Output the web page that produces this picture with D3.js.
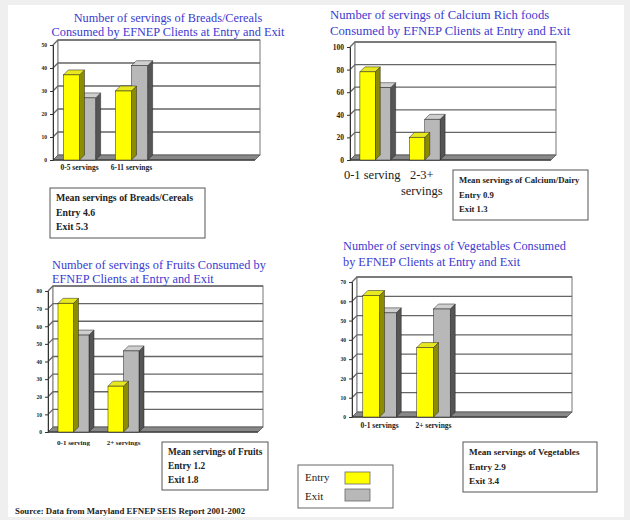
<!DOCTYPE html>
<html>
<head>
<meta charset="utf-8">
<script src="https://cdn.jsdelivr.net/npm/d3@7"></script>
<style>
  body { margin: 0; background: #efefef; }
  svg { display: block; }
</style>
</head>
<body>
<div id="chart"></div>
<script>
// values
const breadCats = ["0-5 servings", "6-11 servings"];
const breadEntry = [37, 30];
const breadExit = [27, 41];
const breadTicks = [0, 10, 20, 30, 40, 50];
const breadMean = ["Mean servings of Breads/Cereals", "Entry 4.6", "Exit 5.3"];

const calciumCats = ["0-1 serving", "2-3+ servings"];
const calciumEntry = [78, 20];
const calciumExit = [64, 36];
const calciumTicks = [0, 20, 40, 60, 80, 100];
const calciumMean = ["Mean servings of Calcium/Dairy", "Entry 0.9", "Exit 1.3"];

const fruitCats = ["0-1 serving", "2+ servings"];
const fruitEntry = [73, 26];
const fruitExit = [55, 46];
const fruitTicks = [0, 10, 20, 30, 40, 50, 60, 70, 80];
const fruitMean = ["Mean servings of Fruits", "Entry 1.2", "Exit 1.8"];

const vegCats = ["0-1 servings", "2+ servings"];
const vegEntry = [63, 36];
const vegExit = [54, 56];
const vegTicks = [0, 10, 20, 30, 40, 50, 60, 70];
const vegMean = ["Mean servings of Vegetables", "Entry 2.9", "Exit 3.4"];

const seriesNames = ["Entry", "Exit"];

const W = 630, H = 520;
const blue = "#3a3ad0";
const serif = "'Liberation Serif', 'DejaVu Serif', serif";
const depth = 5;

const svg = d3.select("#chart").append("svg")
    .attr("width", W).attr("height", H);

svg.append("rect")
    .attr("x", 8).attr("y", 5)
    .attr("width", 616).attr("height", 512)
    .attr("fill", "#fff");

const fills = {
    Entry: {front: "#ffff00", top: "#e8e820", side: "#8c8c00"},
    Exit: {front: "#b8b8b8", top: "#cfcfcf", side: "#555"}
};

function drawChart(cfg) {
    const g = svg.append("g");
    const x = d3.scaleBand()
        .domain(cfg.cats)
        .range(cfg.xRange)
        .paddingInner(0.38)
        .paddingOuter(0.2);
    const y = d3.scaleLinear()
        .domain([0, d3.max(cfg.ticks)])
        .range(cfg.yRange);
    const x0 = cfg.xRange[0], x1 = cfg.wallRight;
    const y0 = y(0), yTop = y(d3.max(cfg.ticks));

    // side wall + back wall
    g.append("path")
        .attr("d", `M${x0},${y0}L${x0},${yTop}L${x0 + depth},${yTop - depth}L${x0 + depth},${y0 - depth}Z`)
        .attr("fill", "#fff").attr("stroke", "#777").attr("stroke-width", 0.8);
    g.append("rect")
        .attr("x", x0 + depth).attr("y", yTop - depth)
        .attr("width", x1 - x0 - depth).attr("height", y0 - yTop)
        .attr("fill", "#fff").attr("stroke", "#777").attr("stroke-width", 1);

    // gridlines on the wall
    g.selectAll(".grid")
        .data(cfg.ticks.slice(1))
        .enter().append("path")
        .attr("d", d => `M${x0},${y(d)}L${x0 + depth},${y(d) - depth}L${x1},${y(d) - depth}`)
        .attr("fill", "none")
        .attr("stroke", "#666")
        .attr("stroke-width", 1.3);

    // floor
    g.append("path")
        .attr("d", `M${x0},${y0}L${x1 - depth},${y0}L${x1},${y0 - depth}L${x0 + depth},${y0 - depth}Z`)
        .attr("fill", "#888").attr("stroke", "#555").attr("stroke-width", 0.8);
    g.append("line")
        .attr("x1", x0).attr("x2", x1 - depth)
        .attr("y1", y0).attr("y2", y0)
        .attr("stroke", "#444").attr("stroke-width", 1.5);

    // y axis
    const axis = g.append("g")
        .attr("transform", `translate(${x0},0)`)
        .call(d3.axisLeft(y).tickValues(cfg.ticks).tickSize(3).tickFormat(d3.format("d")));
    axis.select(".domain").attr("stroke", "#333");
    axis.selectAll("line").attr("stroke", "#333");
    axis.selectAll("text")
        .attr("font-family", serif)
        .attr("font-size", cfg.tickSize)
        .attr("font-weight", "bold")
        .attr("fill", "#222");

    // bars, drawn right to left so the side faces overlap properly
    const bw = x.bandwidth() / 2;
    const rows = [];
    cfg.cats.forEach((c, i) => {
        rows.push({cat: c, s: "Entry", v: cfg.entry[i], k: 0});
        rows.push({cat: c, s: "Exit", v: cfg.exit[i], k: 1});
    });
    const bars = g.selectAll(".bar")
        .data(rows.sort((a, b) => (x(b.cat) + b.k) - (x(a.cat) + a.k)))
        .enter().append("g").attr("class", "bar");
    bars.append("path")
        .attr("d", d => {
            const bx = x(d.cat) + d.k * bw + bw, by = y(d.v);
            return `M${bx},${by}L${bx + depth},${by - depth}L${bx + depth},${y0 - depth}L${bx},${y0}Z`;
        })
        .attr("fill", d => fills[d.s].side)
        .attr("stroke", "#222").attr("stroke-width", 0.5);
    bars.append("path")
        .attr("d", d => {
            const bx = x(d.cat) + d.k * bw, by = y(d.v);
            return `M${bx},${by}L${bx + depth},${by - depth}L${bx + bw + depth},${by - depth}L${bx + bw},${by}Z`;
        })
        .attr("fill", d => fills[d.s].top)
        .attr("stroke", "#222").attr("stroke-width", 0.5);
    bars.append("rect")
        .attr("x", d => x(d.cat) + d.k * bw)
        .attr("y", d => y(d.v))
        .attr("width", bw)
        .attr("height", d => y0 - y(d.v))
        .attr("fill", d => fills[d.s].front)
        .attr("stroke", "#222").attr("stroke-width", 0.5);

    // category labels
    g.selectAll(".cat")
        .data(cfg.cats)
        .enter().append("text")
        .attr("y", cfg.catY)
        .attr("text-anchor", "middle")
        .attr("font-family", serif)
        .attr("font-size", cfg.catSize)
        .attr("font-weight", cfg.catWeight || "bold")
        .attr("fill", "#222")
        .each(function(d) {
            const lines = cfg.catLines ? cfg.catLines[d] : [d];
            const cx = x(d) + x.bandwidth() / 2 + (cfg.catShift || 0);
            d3.select(this).selectAll("tspan")
                .data(lines).enter().append("tspan")
                .attr("x", cx)
                .attr("dy", (l, i) => i == 0 ? 0 : cfg.catSize * 1.3)
                .text(l => l);
        });

    // title
    g.selectAll(".title")
        .data(cfg.title)
        .enter().append("text")
        .attr("x", cfg.titleX)
        .attr("y", (d, i) => cfg.titleY + i * cfg.titleGap)
        .attr("text-anchor", cfg.titleAnchor)
        .attr("font-family", serif)
        .attr("font-size", cfg.titleSize)
        .attr("fill", blue)
        .text(d => d);

    // mean box
    const b = cfg.box;
    g.append("rect")
        .attr("x", b[0]).attr("y", b[1])
        .attr("width", b[2]).attr("height", b[3])
        .attr("fill", "#fff").attr("stroke", "#555").attr("stroke-width", 1);
    g.selectAll(".mean")
        .data(cfg.mean)
        .enter().append("text")
        .attr("x", b[0] + 6)
        .attr("y", (d, i) => b[1] + 13 + i * (b[3] - 6) / 3)
        .attr("font-family", serif)
        .attr("font-size", cfg.meanSize)
        .attr("font-weight", "bold")
        .attr("fill", "#222")
        .text(d => d);
}

drawChart({
    cats: breadCats, entry: breadEntry, exit: breadExit, ticks: breadTicks, mean: breadMean,
    xRange: [53, 158], wallRight: 260, yRange: [160, 45],
    tickSize: 5.5, catY: 170, catSize: 7.5,
    title: ["Number of servings of Breads/Cereals", "Consumed by EFNEP Clients at Entry and Exit"],
    titleX: 168, titleY: 22, titleGap: 14, titleAnchor: "middle", titleSize: 12.3,
    box: [50, 188, 155, 50], meanSize: 9.8
});

drawChart({
    cats: calciumCats, entry: calciumEntry, exit: calciumExit, ticks: calciumTicks, mean: calciumMean,
    xRange: [350, 450], wallRight: 556, yRange: [160, 47],
    tickSize: 7.5, catY: 179, catSize: 12.5, catWeight: "normal", catShift: -3,
    catLines: {"0-1 serving": ["0-1 serving"], "2-3+ servings": ["2-3+", "servings"]},
    title: ["Number of servings of Calcium Rich foods", "Consumed by EFNEP Clients at Entry and Exit"],
    titleX: 330, titleY: 19, titleGap: 16, titleAnchor: "start", titleSize: 12.7,
    box: [453, 170, 135, 50], meanSize: 8.7
});

drawChart({
    cats: fruitCats, entry: fruitEntry, exit: fruitExit, ticks: fruitTicks, mean: fruitMean,
    xRange: [48, 149], wallRight: 263, yRange: [432, 291],
    tickSize: 5.5, catY: 445, catSize: 7,
    title: ["Number of servings of Fruits Consumed by", "EFNEP Clients at Entry and Exit"],
    titleX: 52, titleY: 269, titleGap: 14, titleAnchor: "start", titleSize: 12.3,
    box: [162, 442, 106, 48], meanSize: 9.3
});

drawChart({
    cats: vegCats, entry: vegEntry, exit: vegExit, ticks: vegTicks, mean: vegMean,
    xRange: [352, 461], wallRight: 572, yRange: [417, 282],
    tickSize: 5.5, catY: 428, catSize: 7.5,
    title: ["Number of servings of Vegetables Consumed", "by EFNEP Clients at Entry and Exit"],
    titleX: 343, titleY: 250, titleGap: 16, titleAnchor: "start", titleSize: 12.3,
    box: [463, 442, 134, 50], meanSize: 9.2
});

// shared legend
const leg = svg.append("g");
leg.append("rect")
    .attr("x", 298).attr("y", 465).attr("width", 95).attr("height", 43)
    .attr("fill", "#fff").attr("stroke", "#666").attr("stroke-width", 1);
leg.selectAll(".lt")
    .data(seriesNames)
    .enter().append("text")
    .attr("x", 305)
    .attr("y", (d, i) => 481 + i * 19)
    .attr("font-family", serif)
    .attr("font-size", 11)
    .attr("fill", "#222")
    .text(d => d);
leg.selectAll(".sw")
    .data(seriesNames)
    .enter().append("rect")
    .attr("x", 345)
    .attr("y", (d, i) => 472 + i * 17)
    .attr("width", 25).attr("height", 12)
    .attr("fill", d => fills[d].front)
    .attr("stroke", "#666").attr("stroke-width", 0.8);

svg.append("text")
    .attr("x", 15).attr("y", 514)
    .attr("font-family", serif)
    .attr("font-size", 8.8)
    .attr("font-weight", "bold")
    .attr("fill", "#222")
    .text("Source: Data from Maryland EFNEP SEIS Report 2001-2002");
</script>
</body>
</html>
